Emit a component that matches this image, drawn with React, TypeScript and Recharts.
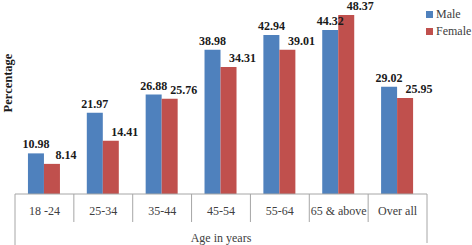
import React from "react";
import { BarChart, Bar, XAxis, YAxis, LabelList, Legend } from "recharts";

const categories = ["18 -24", "25-34", "35-44", "45-54", "55-64", "65 & above", "Over all"];
const maleValues = [10.98, 21.97, 26.88, 38.98, 42.94, 44.32, 29.02];
const femaleValues = [8.14, 14.41, 25.76, 34.31, 39.01, 48.37, 25.95];
const seriesNames = ["Male", "Female"];
const seriesColors = ["#4F81BD", "#C0504D"];

const data = categories.map((c, i) => ({
  name: c,
  male: maleValues[i],
  female: femaleValues[i],
}));

const W = 472;
const H = 245;
const M = { top: 9, right: 45, left: 0, bottom: 0 };
const Y_W = 15;
const X_H = 51;
const FONT = "'Liberation Serif', 'Times New Roman', serif";
const AXIS_COLOR = "#a6a6a6";
const band = (W - M.left - M.right - Y_W) / categories.length;

const Tick = (props: any) => {
  const { x, y, payload, index } = props;
  const left = x - band / 2;
  const right = x + band / 2;
  const isFirst = index === 0;
  const isLast = index === categories.length - 1;
  return (
    <g>
      <line x1={left} x2={left} y1={y} y2={isFirst ? H : y + 28} stroke={AXIS_COLOR} strokeWidth={1} />
      {isLast && <line x1={right} x2={right} y1={y} y2={H - 2} stroke={AXIS_COLOR} strokeWidth={1} />}
      <text x={x} y={y + 21} textAnchor="middle" fontFamily={FONT} fontSize={12} fill="#404040">
        {payload.value}
      </text>
    </g>
  );
};

const LegendContent = () => (
  <div style={{ fontFamily: FONT, fontSize: 12, color: "#404040", lineHeight: "17px" }}>
    {seriesNames.map((n, i) => (
      <div key={n} style={{ display: "flex", alignItems: "center", height: 17 }}>
        <span style={{ display: "inline-block", width: 7, height: 7, background: seriesColors[i], marginRight: 3 }} />
        <span>{n}</span>
      </div>
    ))}
  </div>
);

const labelStyle = { fontFamily: FONT, fontSize: 12, fontWeight: 700, fill: "#1a1a1a" };

export default function App() {
  return (
    <div style={{ width: W, height: H, position: "relative" }}>
      <style>{`body{margin:0}`}</style>
      <BarChart width={W} height={H} data={data} margin={M} barCategoryGap="22%" barGap={0}>
        <XAxis
          dataKey="name"
          height={X_H}
          tickLine={false}
          tickSize={0}
          tickMargin={0}
          axisLine={{ stroke: AXIS_COLOR }}
          tick={<Tick />}
          interval={0}
          label={{ value: "Age in years", position: "insideBottom", offset: 3, style: { fontFamily: FONT, fontSize: 12, fill: "#404040" } }}
        />
        <YAxis
          width={Y_W}
          domain={[0, 50]}
          tick={false}
          tickLine={false}
          axisLine={false}
          label={{
            content: (p: any) => {
              const vb = p.viewBox || { x: 0 };
              const cx = vb.x + 8;
              const cy = 83;
              return (
                <text x={cx} y={cy} transform={`rotate(-90 ${cx} ${cy})`} textAnchor="middle" dominantBaseline="central" fontFamily={FONT} fontSize={12.5} fontWeight={700} fill="#1a1a1a">
                  Percentage
                </text>
              );
            },
          }}
        />
        <Legend
          layout="vertical"
          align="center"
          verticalAlign="middle"
          wrapperStyle={{ top: 6, left: 426, width: 46 }}
          content={<LegendContent />}
        />
        <Bar dataKey="male" name="Male" fill={seriesColors[0]} isAnimationActive={false}>
          <LabelList dataKey="male" position="top" offset={5} style={labelStyle} />
        </Bar>
        <Bar dataKey="female" name="Female" fill={seriesColors[1]} isAnimationActive={false}>
          <LabelList dataKey="female" position="top" offset={5} dx={14} style={labelStyle} />
        </Bar>
      </BarChart>
    </div>
  );
}
